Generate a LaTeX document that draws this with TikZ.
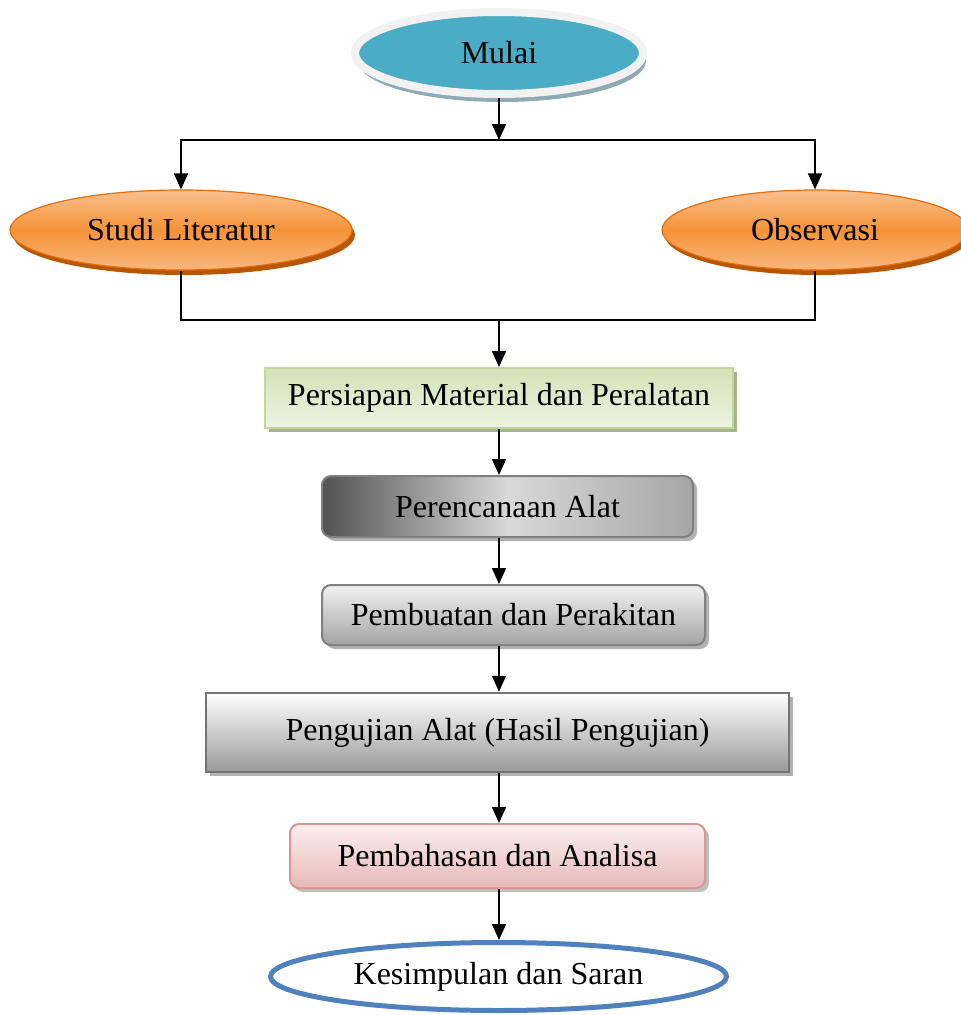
\documentclass[tikz,border=0pt]{standalone}
\usepackage{fontspec}
\setmainfont{Liberation Serif}
\usetikzlibrary{shapes.geometric,arrows.meta,shadows}
\definecolor{mblue}{HTML}{4BACC6}
\definecolor{mring}{HTML}{F2F2F2}
\definecolor{mshade}{HTML}{8FAAB4}
\definecolor{orlight}{HTML}{FAC08F}
\definecolor{ormain}{HTML}{F59338}
\definecolor{orline}{HTML}{E46C0A}
\definecolor{orshade}{HTML}{B65708}
\definecolor{grtop}{HTML}{D3E2B7}
\definecolor{grbot}{HTML}{EDF3E1}
\definecolor{grline}{HTML}{C3D69B}
\definecolor{grshade}{HTML}{A6B48E}
\definecolor{pktop}{HTML}{FCEFEF}
\definecolor{pkbot}{HTML}{E6B9B8}
\definecolor{pkline}{HTML}{D99694}
\definecolor{kblue}{HTML}{4F81BD}
\tikzset{
  arr/.style={-{Triangle[width=14pt,length=16pt]},line width=1.6pt},
  garis/.style={line width=1.6pt},
  oval/.style={ellipse,inner sep=0pt},
  kotak/.style={rectangle,inner sep=0pt,line width=2pt},
  bayang/.style={drop shadow={shadow xshift=4pt,shadow yshift=-4pt,fill=black!30,opacity=1}},
  oranye/.style={oval,top color=orlight,bottom color=orlight!80!ormain,middle color=ormain,
    draw=orline,line width=1.2pt,
    drop shadow={shadow xshift=3pt,shadow yshift=-5pt,fill=orshade,opacity=1}},
}
\begin{document}
\begin{tikzpicture}[x=1pt,y=-1pt,font=\fontsize{32}{38}\selectfont]
  \useasboundingbox (0,0) rectangle (961,1015);
  % mulai
  \node[oval,minimum width=288,minimum height=82,fill=mblue,draw=mring,line width=8pt,
    drop shadow={shadow xshift=3pt,shadow yshift=-8pt,fill=mshade,opacity=1}] (mulai) at (499,53) {Mulai};
  \node[oranye,minimum width=342,minimum height=80] (studi) at (181,230) {Studi Literatur};
  \node[oranye,minimum width=306,minimum height=80] (obs) at (815,230) {Observasi};
  \coordinate (split) at (499,140);
  \coordinate (join) at (499,320);
  % kotak proses
  \node[kotak,minimum width=468,minimum height=60,top color=grtop,bottom color=grbot,
    draw=grline,drop shadow={shadow xshift=4pt,shadow yshift=-4pt,fill=grshade,opacity=1}]
    (persiapan) at (499,398) {Persiapan Material dan Peralatan};
  \node[kotak,rounded corners=9pt,minimum width=371,minimum height=61,left color=black!68,
    right color=black!35,middle color=black!15,draw=black!50,bayang]
    (rencana) at (507.5,506.5) {Perencanaan Alat};
  \node[kotak,rounded corners=9pt,minimum width=383,minimum height=60,top color=black!5,
    bottom color=black!36,draw=black!50,bayang]
    (buat) at (513.5,615) {Pembuatan dan Perakitan};
  \node[kotak,minimum width=583,minimum height=79,top color=white,bottom color=black!40,
    draw=black!55,line width=2.5pt,bayang]
    (uji) at (497.5,732.5) {Pengujian Alat (Hasil Pengujian)};
  \node[kotak,rounded corners=9pt,minimum width=415,minimum height=64,top color=pktop,
    bottom color=pkbot,draw=pkline,drop shadow={shadow xshift=4pt,shadow yshift=-4pt,fill=black!25,opacity=1}]
    (bahas) at (497.5,856) {Pembahasan dan Analisa};
  \node[oval,minimum width=456,minimum height=68,fill=white,draw=kblue,line width=5pt]
    (simpul) at (498.5,976.5) {Kesimpulan dan Saran};
  % panah
  \draw[arr] (mulai) -- (split);
  \draw[arr] (split) -| (studi);
  \draw[arr] (split) -| (obs);
  \draw[garis] (studi) |- (join);
  \draw[garis] (obs) |- (join);
  \draw[arr] (join) -- (persiapan);
  \draw[arr] (persiapan.south -| mulai) -- (rencana.north -| mulai);
  \draw[arr] (rencana.south -| mulai) -- (buat.north -| mulai);
  \draw[arr] (buat.south -| mulai) -- (uji.north -| mulai);
  \draw[arr] (uji.south -| mulai) -- (bahas.north -| mulai);
  \draw[arr] (bahas.south -| mulai) -- (simpul.north -| mulai);
\end{tikzpicture}
\end{document}
